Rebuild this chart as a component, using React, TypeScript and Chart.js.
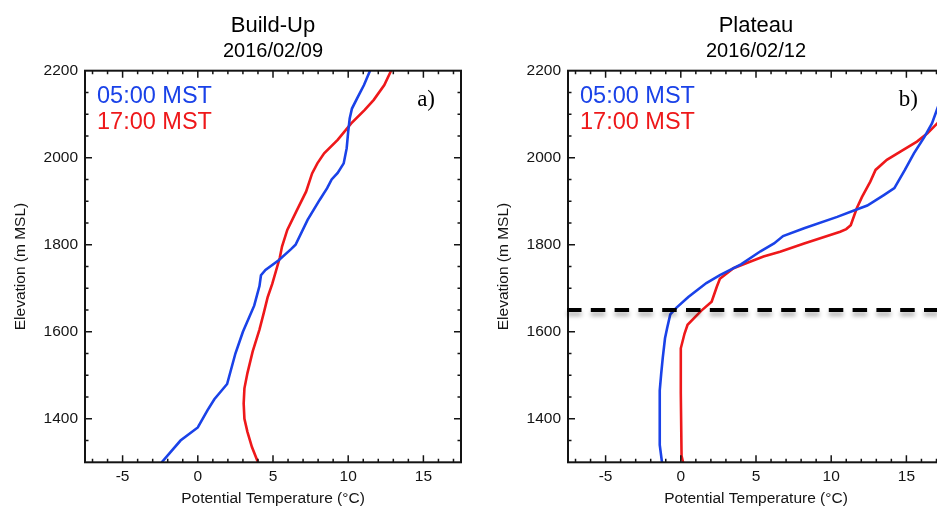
import React, { useEffect, useRef } from "react";
import { Chart, registerables } from "chart.js";

Chart.register(...registerables);

const SANS = '"Liberation Sans", Arial, Helvetica, sans-serif';
const SERIF = '"Liberation Serif", "Times New Roman", serif';
const BLUE = "rgb(26, 66, 232)";
const RED = "rgb(238, 24, 26)";
const INK = "#141414";

const seriesLabels = ["05:00 MST", "17:00 MST"];

// Build-Up profile, 2016/02/09 (elevation m MSL, potential temperature °C)
const buildUpElev0500 = [1300, 1350, 1380, 1420, 1445, 1480, 1550, 1600, 1660, 1705, 1730, 1742, 1765, 1790, 1800, 1857, 1903, 1930, 1950, 1965, 1987, 2022, 2060, 2090, 2113, 2137, 2167, 2200];
const buildUpTemp0500 = [-2.4, -1.15, 0.0, 0.65, 1.1, 1.95, 2.5, 3.0, 3.75, 4.1, 4.2, 4.5, 5.4, 6.2, 6.5, 7.3, 8.1, 8.6, 8.9, 9.3, 9.7, 9.9, 10.0, 10.1, 10.25, 10.6, 11.05, 11.45];
const buildUpElev1700 = [1300, 1335, 1370, 1400, 1435, 1470, 1505, 1555, 1605, 1645, 1680, 1710, 1770, 1796, 1834, 1880, 1922, 1964, 1987, 2010, 2041, 2079, 2110, 2133, 2167, 2200];
const buildUpTemp1700 = [4.0, 3.6, 3.3, 3.1, 3.05, 3.1, 3.3, 3.65, 4.1, 4.4, 4.65, 4.95, 5.45, 5.6, 5.95, 6.6, 7.2, 7.6, 7.95, 8.4, 9.3, 10.2, 11.1, 11.7, 12.4, 12.85];

// Plateau profile, 2016/02/12
const plateauElev0500 = [1300, 1340, 1390, 1465, 1505, 1540, 1585, 1610, 1640, 1655, 1680, 1712, 1730, 1755, 1785, 1803, 1820, 1838, 1864, 1880, 1890, 1914, 1930, 1972, 2010, 2048, 2079, 2117, 2150];
const plateauTemp0500 = [-1.25, -1.4, -1.4, -1.4, -1.3, -1.2, -1.05, -0.9, -0.7, -0.3, 0.5, 1.7, 2.6, 4.0, 5.3, 6.2, 6.8, 8.2, 10.4, 11.6, 12.4, 13.5, 14.2, 14.9, 15.5, 16.2, 16.7, 17.1, 17.6];
const plateauElev1700 = [1300, 1315, 1460, 1562, 1596, 1616, 1648, 1669, 1704, 1722, 1746, 1761, 1773, 1784, 1803, 1830, 1836, 1845, 1884, 1910, 1945, 1972, 1995, 2014, 2037, 2056, 2079, 2100];
const plateauTemp1700 = [0.15, 0.05, 0.0, 0.0, 0.25, 0.45, 1.35, 2.05, 2.4, 2.6, 3.5, 4.6, 5.5, 6.6, 8.2, 10.6, 11.0, 11.3, 11.7, 12.05, 12.6, 12.95, 13.7, 14.6, 15.7, 16.4, 17.05, 17.6];

// Top of the cold-air pool (m MSL), marked on the Plateau panel
const plateauPoolTop = 1650;

const tempTicks = [-5, 0, 5, 10, 15];
const elevTicks = [1400, 1600, 1800, 2000, 2200];
const tempMin = -7.5;
const tempMax = 17.5;
const elevMin = 1300;
const elevMax = 2200;

type PanelSpec = {
  title: string;
  date: string;
  tag: string;
  elevA: number[];
  tempA: number[];
  elevB: number[];
  tempB: number[];
  poolTop?: number;
};

const toPoints = (elev: number[], temp: number[]) =>
  elev.map((e, i) => ({ x: temp[i], y: e }));

// Inward tick marks on all four sides plus the plot frame
const frameTicks = {
  id: "frameTicks",
  afterDatasetsDraw(chart: any) {
    const { ctx, chartArea: a, scales } = chart;
    const x = scales.x;
    const y = scales.y;
    ctx.save();
    ctx.strokeStyle = INK;
    ctx.lineWidth = 1.5;
    ctx.beginPath();
    for (let t = Math.ceil(x.min); t <= x.max; t += 1) {
      const px = x.getPixelForValue(t);
      const len = t % 5 === 0 ? 7 : 3.5;
      ctx.moveTo(px, a.bottom);
      ctx.lineTo(px, a.bottom - len);
      ctx.moveTo(px, a.top);
      ctx.lineTo(px, a.top + len);
    }
    for (let e = y.min + 50; e < y.max; e += 50) {
      const py = y.getPixelForValue(e);
      const len = e % 200 === 0 ? 7 : 3.5;
      ctx.moveTo(a.left, py);
      ctx.lineTo(a.left + len, py);
      ctx.moveTo(a.right, py);
      ctx.lineTo(a.right - len, py);
    }
    ctx.stroke();
    ctx.lineWidth = 2;
    ctx.strokeRect(a.left, a.top, a.right - a.left, a.bottom - a.top);
    ctx.restore();
  },
};

// Coloured series names in the upper-left corner
const cornerLegend = {
  id: "cornerLegend",
  afterDatasetsDraw(chart: any) {
    const { ctx, chartArea: a } = chart;
    ctx.save();
    ctx.font = `23.5px ${SANS}`;
    ctx.textAlign = "left";
    ctx.textBaseline = "alphabetic";
    chart.data.datasets.forEach((ds: any, i: number) => {
      if (!ds.label) return;
      ctx.fillStyle = ds.borderColor;
      ctx.fillText(ds.label, a.left + 12, a.top + 32.6 + i * 26);
    });
    ctx.restore();
  },
};

const makePanelTag = (tag: string) => ({
  id: "panelTag",
  afterDatasetsDraw(chart: any) {
    const { ctx, chartArea: a } = chart;
    ctx.save();
    ctx.font = `23px ${SERIF}`;
    ctx.fillStyle = "#000";
    ctx.textAlign = "right";
    ctx.textBaseline = "alphabetic";
    ctx.fillText(tag, a.right - 26, a.top + 35);
    ctx.restore();
  },
});

const makePoolLine = (elev?: number) => ({
  id: "poolLine",
  afterDatasetsDraw(chart: any) {
    if (elev === undefined) return;
    const { ctx, chartArea: a, scales } = chart;
    const py = scales.y.getPixelForValue(elev);
    ctx.save();
    ctx.strokeStyle = "#000";
    ctx.lineWidth = 4;
    ctx.setLineDash([14.5, 9.3]);
    ctx.shadowColor = "rgba(0,0,0,0.32)";
    ctx.shadowBlur = 4;
    ctx.shadowOffsetY = 4;
    ctx.beginPath();
    ctx.moveTo(a.left - 1, py);
    ctx.lineTo(a.right, py);
    ctx.stroke();
    ctx.restore();
  },
});

function buildConfig(p: PanelSpec): any {
  const tickFont = { family: SANS, size: 15.5 };
  return {
    type: "scatter",
    data: {
      datasets: [
        {
          label: seriesLabels[0],
          data: toPoints(p.elevA, p.tempA),
          borderColor: BLUE,
          backgroundColor: BLUE,
          showLine: true,
          borderWidth: 2.6,
          pointRadius: 0,
          tension: 0,
        },
        {
          label: seriesLabels[1],
          data: toPoints(p.elevB, p.tempB),
          borderColor: RED,
          backgroundColor: RED,
          showLine: true,
          borderWidth: 2.6,
          pointRadius: 0,
          tension: 0,
        },
      ],
    },
    options: {
      responsive: false,
      animation: false,
      events: [],
      layout: { padding: { left: 0, right: 9, top: 0, bottom: 0 } },
      scales: {
        x: {
          type: "linear",
          min: tempMin,
          max: tempMax,
          afterBuildTicks: (s: any) => {
            s.ticks = tempTicks.map((v) => ({ value: v }));
          },
          afterFit: (s: any) => {
            s.height = 45.7;
          },
          grid: { display: false, drawTicks: false },
          border: { display: false },
          ticks: {
            font: tickFont,
            color: INK,
            padding: 5,
            maxRotation: 0,
            autoSkip: false,
            callback: (v: number) => String(v),
          },
          title: {
            display: true,
            text: "Potential Temperature (°C)",
            font: { family: SANS, size: 15.5 },
            color: INK,
            padding: { top: 0, bottom: 0 },
          },
        },
        y: {
          type: "linear",
          min: elevMin,
          max: elevMax,
          afterBuildTicks: (s: any) => {
            s.ticks = elevTicks.map((v) => ({ value: v }));
          },
          afterFit: (s: any) => {
            s.width = 85;
          },
          grid: { display: false, drawTicks: false },
          border: { display: false },
          ticks: {
            font: tickFont,
            color: INK,
            padding: 7,
            autoSkip: false,
            callback: (v: number) => String(v),
          },
          title: {
            display: true,
            text: "Elevation (m MSL)",
            font: { family: SANS, size: 15.5 },
            color: INK,
            padding: { top: 11.7, bottom: 0 },
          },
        },
      },
      plugins: {
        legend: { display: false },
        tooltip: { enabled: false },
        title: {
          display: true,
          text: p.title,
          fullSize: false,
          color: "#000",
          font: { family: SANS, size: 22, weight: "normal" },
          padding: { top: 12.5, bottom: 0 },
        },
        subtitle: {
          display: true,
          text: p.date,
          fullSize: false,
          color: "#000",
          font: { family: SANS, size: 20, weight: "normal" },
          padding: { top: 1, bottom: 6.8 },
        },
      },
    },
    plugins: [frameTicks, cornerLegend, makePanelTag(p.tag), makePoolLine(p.poolTop)],
  };
}

const panels: PanelSpec[] = [
  {
    title: "Build-Up",
    date: "2016/02/09",
    tag: "a)",
    elevA: buildUpElev0500,
    tempA: buildUpTemp0500,
    elevB: buildUpElev1700,
    tempB: buildUpTemp1700,
  },
  {
    title: "Plateau",
    date: "2016/02/12",
    tag: "b)",
    elevA: plateauElev0500,
    tempA: plateauTemp0500,
    elevB: plateauElev1700,
    tempB: plateauTemp1700,
    poolTop: plateauPoolTop,
  },
];

const CANVAS_W = 470;
const CANVAS_H = 508;
const panelLeft = [0, 483];

function Panel({ spec, left }: { spec: PanelSpec; left: number }) {
  const ref = useRef<HTMLCanvasElement | null>(null);
  useEffect(() => {
    if (!ref.current) return;
    const chart = new Chart(ref.current, buildConfig(spec));
    return () => chart.destroy();
  }, [spec]);
  return (
    <canvas
      ref={ref}
      width={CANVAS_W}
      height={CANVAS_H}
      style={{
        position: "absolute",
        left,
        top: 0,
        width: CANVAS_W,
        height: CANVAS_H,
      }}
    />
  );
}

export default function App() {
  return (
    <div
      style={{
        position: "fixed",
        left: 0,
        top: 0,
        width: 937,
        height: 508,
        overflow: "hidden",
        background: "#fff",
      }}
    >
      {panels.map((p, i) => (
        <Panel key={p.title} spec={p} left={panelLeft[i]} />
      ))}
    </div>
  );
}
